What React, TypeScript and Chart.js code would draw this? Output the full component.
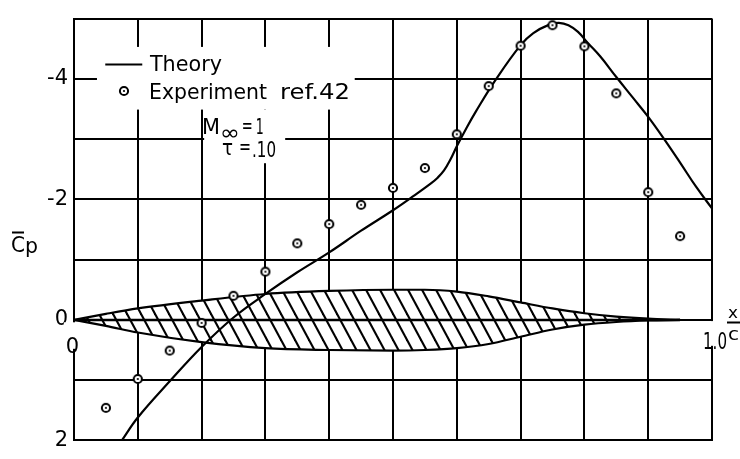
import { useEffect, useRef } from 'react';
import { Chart, registerables } from 'chart.js';

Chart.register(...registerables);

const FONT = "'DejaVu Sans', sans-serif";

// Theoretical pressure coefficient along the chord (Cp; negative values plotted upward)
const theoryX = [0.075, 0.1, 0.15, 0.2, 0.25, 0.3, 0.35, 0.4, 0.45, 0.5, 0.53, 0.56, 0.57, 0.58, 0.59, 0.6, 0.615, 0.63, 0.66, 0.7, 0.72, 0.745, 0.76, 0.775, 0.79, 0.805, 0.825, 0.85, 0.875, 0.9, 0.925, 0.95, 0.975, 1.0];
const theoryCp = [2.0, 1.62, 1.02, 0.45, -0.04, -0.43, -0.79, -1.12, -1.48, -1.82, -2.04, -2.27, -2.36, -2.48, -2.66, -2.88, -3.18, -3.46, -3.97, -4.56, -4.76, -4.9, -4.93, -4.89, -4.78, -4.6, -4.37, -4.03, -3.7, -3.37, -3.0, -2.61, -2.21, -1.85];

// Measured pressure coefficients (ref. 42)
const experimentX = [0.05, 0.1, 0.15, 0.2, 0.25, 0.3, 0.35, 0.4, 0.45, 0.5, 0.55, 0.6, 0.65, 0.7, 0.75, 0.8, 0.85, 0.9, 0.95];
const experimentCp = [1.46, 0.98, 0.51, 0.05, -0.4, -0.8, -1.27, -1.59, -1.91, -2.19, -2.52, -3.08, -3.88, -4.55, -4.89, -4.54, -3.76, -2.12, -1.39];

// Profile sketch (hatched section) on the same axes
const airfoilX = [0, 0.05, 0.1, 0.2, 0.3, 0.4, 0.5, 0.55, 0.6, 0.65, 0.7, 0.75, 0.8, 0.85, 0.9, 0.95];
const airfoilUpper = [0, -0.1, -0.19, -0.32, -0.43, -0.48, -0.5, -0.5, -0.47, -0.39, -0.29, -0.19, -0.11, -0.055, -0.02, 0];
const airfoilLower = [0, 0.1, 0.21, 0.37, 0.47, 0.5, 0.51, 0.5, 0.47, 0.4, 0.28, 0.16, 0.08, 0.035, 0.01, 0];

const yTickValues = [-4, -2, 0, 2];
const yTickLabels = ['-4', '-2', '0', '2'];
const xTickValues = [0, 1];
const xTickLabels = ['0', '1.0'];

function makeMarker(): HTMLCanvasElement {
  const c = document.createElement('canvas');
  c.width = 12;
  c.height = 12;
  const g = c.getContext('2d')!;
  g.beginPath();
  g.arc(6, 6, 4.1, 0, Math.PI * 2);
  g.fillStyle = '#fff';
  g.fill();
  g.lineWidth = 2;
  g.strokeStyle = '#000';
  g.stroke();
  g.beginPath();
  g.arc(6, 6, 1.1, 0, Math.PI * 2);
  g.fillStyle = '#000';
  g.fill();
  return c;
}

function makeHatch(ctx: CanvasRenderingContext2D): CanvasPattern {
  const w = 14;
  const h = 26;
  const t = document.createElement('canvas');
  t.width = w;
  t.height = h;
  const g = t.getContext('2d')!;
  g.fillStyle = '#fff';
  g.fillRect(0, 0, w, h);
  g.strokeStyle = '#000';
  g.lineWidth = 2.1;
  for (const o of [-w, 0, w]) {
    g.beginPath();
    g.moveTo(o - w / h * 3, -3);
    g.lineTo(o + w + w / h * 3, h + 3);
    g.stroke();
  }
  return ctx.createPattern(t, 'repeat')!;
}

function fitText(ctx: CanvasRenderingContext2D, text: string, left: number, baseline: number, width: number, size: number) {
  ctx.font = `${size}px ${FONT}`;
  const w = ctx.measureText(text).width;
  ctx.save();
  ctx.translate(left, baseline);
  ctx.scale(width / w, 1);
  ctx.textAlign = 'left';
  ctx.textBaseline = 'alphabetic';
  ctx.fillText(text, 0, 0);
  ctx.restore();
}

export default function App() {
  const ref = useRef<HTMLCanvasElement | null>(null);

  useEffect(() => {
    const canvas = ref.current;
    if (!canvas) return;
    const ctx2d = canvas.getContext('2d')!;
    const marker = makeMarker();
    const hatch = makeHatch(ctx2d);

    const notes = {
      id: 'notes',
      beforeDatasetsDraw(chart: any) {
        const { ctx } = chart;
        const xs = chart.scales.x;
        const ys = chart.scales.y;
        const X = (v: number) => xs.getPixelForValue(v);
        const Y = (v: number) => ys.getPixelForValue(v);
        ctx.save();

        // white backing behind lettering (interrupts grid lines)
        ctx.fillStyle = '#fff';
        const blanks: number[][] = [
          [0.036, 0.44, -4.53, -3.49],
          [0.204, 0.331, -3.49, -2.6],
          [-0.016, 0.0125, 0.04, 0.48],
          [0.984, 1.03, 0.02, 0.43],
        ];
        for (const [x0, x1, y0, y1] of blanks) {
          ctx.fillRect(X(x0), Y(y0), X(x1) - X(x0), Y(y1) - Y(y0));
        }

        ctx.fillStyle = '#000';
        ctx.strokeStyle = '#000';

        // legend
        ctx.lineWidth = 2;
        ctx.beginPath();
        ctx.moveTo(X(0.049), Y(-4.24));
        ctx.lineTo(X(0.107), Y(-4.24));
        ctx.stroke();
        fitText(ctx, 'Theory', X(0.119), Y(-4.13), 72, 21);
        ctx.drawImage(marker, Math.round(X(0.078)) - 6, Math.round(Y(-3.8)) - 6);
        fitText(ctx, 'Experiment', X(0.1176), Y(-3.66), 118, 21);
        fitText(ctx, 'ref.42', X(0.323), Y(-3.66), 70, 21);

        // flow parameters
        fitText(ctx, 'M', X(0.2006), Y(-3.08), 18, 21);
        fitText(ctx, '∞', X(0.229), Y(-2.99), 20, 22);
        fitText(ctx, '=', X(0.263), Y(-3.1), 11, 21);
        fitText(ctx, '1', X(0.285), Y(-3.08), 8, 21);
        fitText(ctx, 'τ', X(0.232), Y(-2.73), 11, 21);
        fitText(ctx, '=', X(0.2586), Y(-2.75), 12, 21);
        fitText(ctx, '.10', X(0.279), Y(-2.71), 24, 21);

        // x-axis labels on the chord line
        ctx.font = `21px ${FONT}`;
        ctx.textAlign = 'center';
        ctx.textBaseline = 'alphabetic';
        ctx.fillText(xTickLabels[0], X(xTickValues[0]) - 1.5, 353);
        fitText(ctx, xTickLabels[1], X(xTickValues[1]) - 9, 349, 24, 23);
        fitText(ctx, 'x', X(1) + 16, 318, 10, 16);
        ctx.lineWidth = 2;
        ctx.beginPath();
        ctx.moveTo(X(1) + 15, 322.5);
        ctx.lineTo(X(1) + 28, 322.5);
        ctx.stroke();
        fitText(ctx, 'c', X(1) + 16, 340, 11, 17);

        // axis title C̄p
        fitText(ctx, 'C', 11, 252, 14, 21);
        ctx.beginPath();
        ctx.moveTo(12, 232.5);
        ctx.lineTo(24, 232.5);
        ctx.stroke();
        fitText(ctx, 'p', 25, 253, 13, 21);

        ctx.restore();
      },
    };

    const chart = new Chart(canvas, {
      type: 'line',
      data: {
        datasets: [
          {
            label: 'Experiment ref. 42',
            data: experimentX.map((x, i) => ({ x, y: experimentCp[i] })),
            showLine: false,
            pointStyle: marker,
            pointRadius: 6,
            order: 0,
          },
          {
            label: 'Theory',
            data: theoryX.map((x, i) => ({ x, y: theoryCp[i] })),
            borderColor: '#000',
            borderWidth: 2.2,
            pointRadius: 0,
            tension: 0.4,
            fill: false,
            order: 1,
          },
          {
            label: 'chord',
            data: [
              { x: airfoilX[0], y: 0 },
              { x: airfoilX[airfoilX.length - 1], y: 0 },
            ],
            borderColor: '#000',
            borderWidth: 2.5,
            pointRadius: 0,
            fill: false,
            order: 2,
          },
          {
            label: 'upper',
            data: airfoilX.map((x, i) => ({ x, y: airfoilUpper[i] })),
            borderColor: '#000',
            borderWidth: 2.2,
            pointRadius: 0,
            cubicInterpolationMode: 'monotone',
            fill: '+1',
            backgroundColor: hatch,
            order: 5,
          },
          {
            label: 'lower',
            data: airfoilX.map((x, i) => ({ x, y: airfoilLower[i] })),
            borderColor: '#000',
            borderWidth: 2.2,
            pointRadius: 0,
            cubicInterpolationMode: 'monotone',
            fill: false,
            order: 4,
          },
        ],
      },
      options: {
        responsive: false,
        animation: false,
        events: [],
        layout: { padding: { left: 0, right: 28, top: 14, bottom: 9 }, autoPadding: false },
        plugins: {
          legend: { display: false },
          tooltip: { enabled: false },
        },
        scales: {
          x: {
            type: 'linear',
            min: 0,
            max: 1,
            ticks: { display: false, stepSize: 0.1, autoSkip: false },
            grid: { color: '#000', lineWidth: 2, drawTicks: false },
            border: { color: '#000', width: 2 },
            afterFit: (s: any) => {
              s.height = 0;
            },
          },
          y: {
            type: 'linear',
            reverse: true,
            min: -5,
            max: 2,
            ticks: {
              stepSize: 1,
              autoSkip: false,
              padding: 6,
              color: '#000',
              font: { family: FONT, size: 21 },
              callback: (v: any) => {
                const i = yTickValues.indexOf(Number(v));
                return i >= 0 ? yTickLabels[i] : '';
              },
            },
            grid: { color: '#000', lineWidth: 2, drawTicks: false },
            border: { color: '#000', width: 2 },
            afterFit: (s: any) => {
              s.width = 74;
            },
          },
        },
      } as any,
      plugins: [notes],
    });

    return () => chart.destroy();
  }, []);

  return (
    <div style={{ position: 'absolute', left: 0, top: 0, width: 740, height: 459, background: '#fff' }}>
      <canvas ref={ref} width={740} height={459} style={{ display: 'block' }} />
    </div>
  );
}
